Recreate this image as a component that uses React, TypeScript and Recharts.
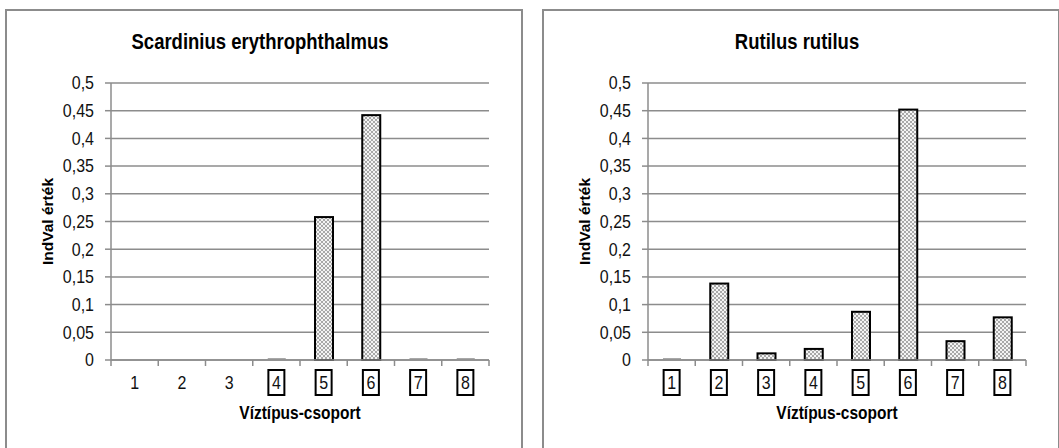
import { BarChart, Bar, XAxis, YAxis, CartesianGrid, Label } from 'recharts';

const categories = ['1', '2', '3', '4', '5', '6', '7', '8'];
const scardiniusValues = [null, null, null, 0, 0.258, 0.442, 0, 0];
const rutilusValues = [0, 0.138, 0.012, 0.02, 0.087, 0.452, 0.034, 0.077];
const scardiniusBoxed = ['4', '5', '6', '7', '8'];
const rutilusBoxed = ['1', '2', '3', '4', '5', '6', '7', '8'];
const yTicks = [0, 0.05, 0.1, 0.15, 0.2, 0.25, 0.3, 0.35, 0.4, 0.45, 0.5];
const yTickLabels = ['0', '0,05', '0,1', '0,15', '0,2', '0,25', '0,3', '0,35', '0,4', '0,45', '0,5'];

const FONT = '"Liberation Sans", Arial, sans-serif';
const AXIS = '#8c8c8c';
const W = 514;
const H = 437;
const MARGIN = { top: 72, right: 32, left: 0, bottom: 28 };
const Y_W = 104;
const BAND = (W - MARGIN.right - Y_W) / categories.length;
const STRETCH = 1.15; // the source picture is a bit taller than wide

const Tall = ({ x, y, children, ...rest }: any) => (
  <text x={x} y={y} transform={`translate(0 ${y}) scale(1 ${STRETCH}) translate(0 ${-y})`}
    dominantBaseline="central" fontFamily={FONT} {...rest}>{children}</text>
);

// zero-valued groups show a flat grey stub on the axis, empty ones show nothing
const DottedBar = (props: any) => {
  const { x, y, width, height, payload, patternId, background } = props;
  if (payload.value == null) return <g />;
  if (payload.value === 0) {
    const base = background ? background.y + background.height : y + height;
    return <rect x={x} y={base - 2} width={width} height={2} fill="#a8a8a8" />;
  }
  return (
    <rect x={x} y={y} width={width} height={height}
      fill={`url(#${patternId})`} stroke="#000" strokeWidth={2} />
  );
};

const makeTick = (boxed: string[]) => (props: any) => {
  const { x, y, payload, index } = props;
  const half = BAND / 2;
  return (
    <g>
      <line x1={x - half} x2={x - half} y1={y} y2={y + 6} stroke={AXIS} strokeWidth={1.5} />
      {index === categories.length - 1 && (
        <line x1={x + half} x2={x + half} y1={y} y2={y + 6} stroke={AXIS} strokeWidth={1.5} />
      )}
      {boxed.includes(payload.value) && (
        <rect x={x - 8} y={y + 10} width={16} height={25} fill="none" stroke="#000" strokeWidth={2} />
      )}
      <Tall x={x} y={y + 23} textAnchor="middle" fontSize={16} fill="#111">{payload.value}</Tall>
    </g>
  );
};

const YTick = (props: any) => {
  const { x, y, payload } = props;
  return (
    <Tall x={x} y={y} textAnchor="end" fontSize={16} fill="#111">
      {yTickLabels[yTicks.indexOf(payload.value)] ?? String(payload.value)}
    </Tall>
  );
};

interface PanelProps {
  title: string;
  values: (number | null)[];
  boxed: string[];
  left: number;
  id: string;
}

function Panel({ title, values, boxed, left, id }: PanelProps) {
  const data = categories.map((c, i) => ({ name: c, value: values[i] }));
  return (
    <div style={{
      position: 'absolute', left, top: 9, width: W, height: 460,
      border: `2px solid ${AXIS}`, background: '#fff',
    }}>
      <div style={{
        position: 'absolute', left: -4, top: 21, width: W, textAlign: 'center',
        fontFamily: FONT, fontWeight: 'bold', fontSize: 18.5, lineHeight: '20px', color: '#000',
        transform: 'scaleY(1.18)',
      }}>{title}</div>
      <BarChart width={W} height={H} data={data} margin={MARGIN} barSize={18}>
        <defs>
          <pattern id={id} width={4} height={4} patternUnits="userSpaceOnUse">
            <rect width={4} height={4} fill="#f4f4f4" />
            <circle cx={1} cy={1} r={0.8} fill="#4a4a4a" />
            <circle cx={3} cy={3} r={0.8} fill="#4a4a4a" />
          </pattern>
        </defs>
        <CartesianGrid vertical={false} stroke={AXIS} strokeWidth={1.5} />
        <XAxis dataKey="name" interval={0} tickSize={0} tickMargin={0} tickLine={false}
          axisLine={{ stroke: AXIS, strokeWidth: 1.5 }} height={60} tick={makeTick(boxed)}>
          <Label content={({ viewBox }: any) => (
            <Tall x={viewBox.x + viewBox.width / 2} y={viewBox.y + 53} textAnchor="middle"
              fontWeight="bold" fontSize={15.5} fill="#000">
              Víztípus-csoport
            </Tall>
          )} />
        </XAxis>
        <YAxis width={Y_W} domain={[0, 0.5]} ticks={yTicks} interval={0} tickSize={6} tickMargin={11}
          axisLine={{ stroke: AXIS, strokeWidth: 1.5 }} tickLine={{ stroke: AXIS, strokeWidth: 1.5 }}
          tick={<YTick />}>
          <Label content={({ viewBox }: any) => {
            const cx = 40;
            const cy = viewBox.y + viewBox.height / 2;
            return (
              <text x={cx} y={cy} transform={`rotate(-90 ${cx} ${cy})`} textAnchor="middle"
                dominantBaseline="central" fontFamily={FONT} fontWeight="bold" fontSize={15.5} fill="#000">
                IndVal érték
              </text>
            );
          }} />
        </YAxis>
        <Bar dataKey="value" isAnimationActive={false} minPointSize={1}
          shape={(p: any) => <DottedBar {...p} patternId={id} />} />
      </BarChart>
    </div>
  );
}

export default function App() {
  return (
    <div style={{
      position: 'absolute', left: 0, top: 0, width: 1059, height: 448,
      overflow: 'hidden', background: '#fff',
    }}>
      <Panel title="Scardinius erythrophthalmus" values={scardiniusValues}
        boxed={scardiniusBoxed} left={5} id="dotsLeft" />
      <Panel title="Rutilus rutilus" values={rutilusValues}
        boxed={rutilusBoxed} left={542} id="dotsRight" />
    </div>
  );
}
